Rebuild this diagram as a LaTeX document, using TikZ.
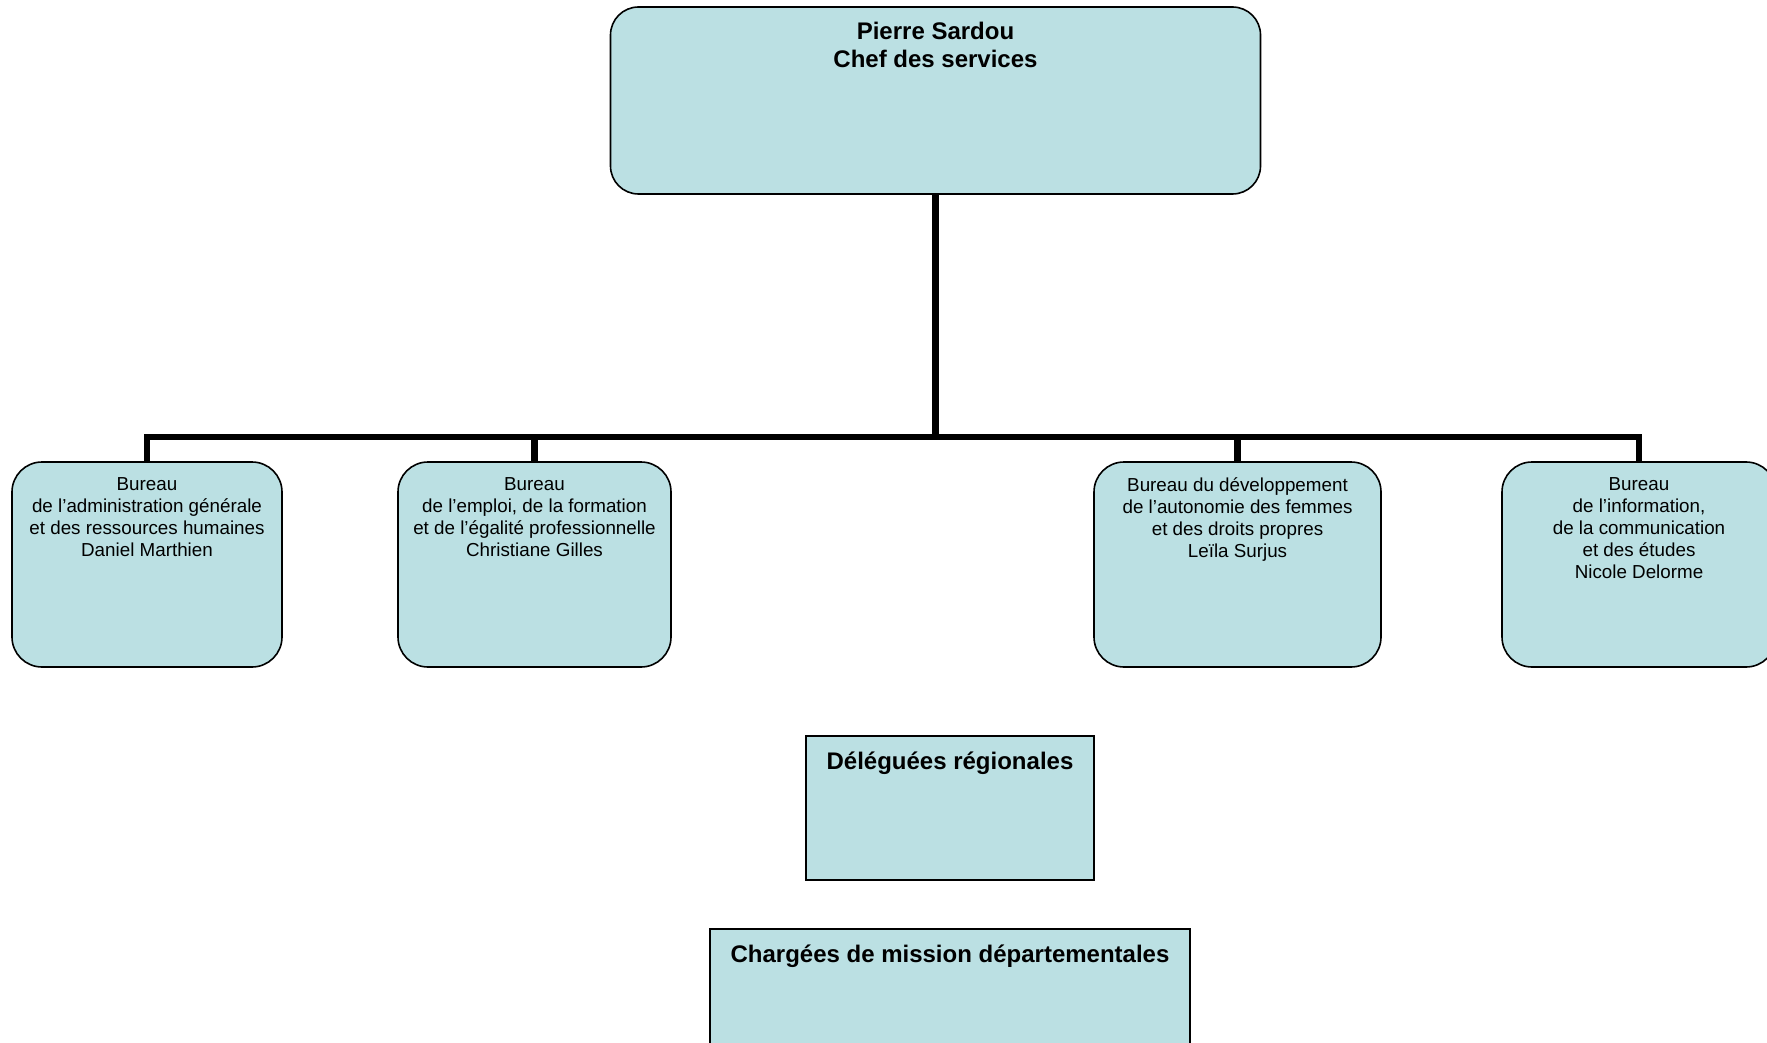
\documentclass[tikz,border=0pt]{standalone}
\usepackage{fontspec}
\setmainfont{Liberation Sans}
\definecolor{boxfill}{RGB}{187,224,227}
\begin{document}
\begin{tikzpicture}[x=0.5pt,y=-0.5pt,
  rbox/.style={draw=black, line width=0.8pt, fill=boxfill, rounded corners=15pt, inner sep=0pt},
  sbox/.style={draw=black, line width=0.8pt, fill=boxfill, inner sep=0pt},
  smalltxt/.style={font=\fontsize{9.4pt}{10.9pt}\selectfont, align=center, anchor=north, inner sep=0pt},
  bigtxt/.style={font=\fontsize{12pt}{14pt}\selectfont\bfseries, align=center, anchor=north, inner sep=0pt},
  conn/.style={draw=black, line width=3.2pt}]
\useasboundingbox (0,0) rectangle (1767,1043);
\clip (0,0) rectangle (1767,1043);
\fill[white] (0,0) rectangle (1767,1043);
% boxes
\node[rbox, rounded corners=14pt, minimum width=325pt, minimum height=93.5pt] (top) at (935.5,100.5) {};
\node[rbox, minimum width=135pt, minimum height=102.5pt] (b1) at (147,564.5) {};
\node[rbox, minimum width=136.5pt, minimum height=102.5pt] (b2) at (534.5,564.5) {};
\node[rbox, minimum width=143.5pt, minimum height=102.5pt] (b3) at (1237.5,564.5) {};
\node[rbox, minimum width=137pt, minimum height=102.5pt] (b4) at (1639,564.5) {};
\node[sbox, minimum width=144pt, minimum height=72pt] (del) at (950,808) {};
\node[sbox, minimum width=240pt, minimum height=65.5pt] (cha) at (950,994.5) {};
% texts
\node[bigtxt] (ttop) at (935.5,22) {Pierre Sardou\\Chef des services};
\node[smalltxt] (t1) at (147,477.5) {Bureau\\de l’administration générale\\et des ressources humaines\\Daniel Marthien};
\node[smalltxt] (t2) at (534.5,477.5) {Bureau\\de l’emploi, de la formation\\et de l’égalité professionnelle\\Christiane Gilles};
\node[smalltxt] (t3) at (1237.5,477.5) {Bureau du développement\\de l’autonomie des femmes\\et des droits propres\\Leïla Surjus};
\node[smalltxt] (t4) at (1639,477.5) {Bureau\\de l’information,\\de la communication\\et des études\\Nicole Delorme};
\node[bigtxt] (tdel) at (950,751.5) {Déléguées régionales};
\node[bigtxt] (tcha) at (950,944.5) {Chargées de mission départementales};
% connectors
\coordinate (bar) at (top.south |- {(0,437)});
\draw[conn] (top.south) -- (bar);
\foreach \b in {b1,b2,b3,b4} \draw[conn] (bar) -| (\b.north);
\end{tikzpicture}
\end{document}
